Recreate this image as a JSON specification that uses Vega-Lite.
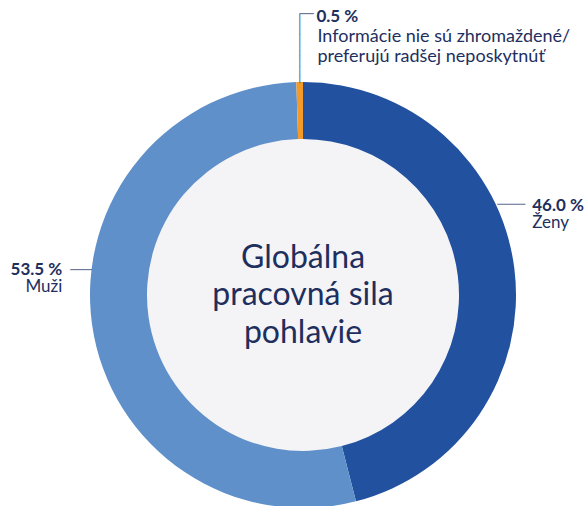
{
  "$schema": "https://vega.github.io/schema/vega-lite/v6.json",
  "width": 570,
  "height": 590,
  "autosize": {"type": "none"},
  "padding": {"left": 18, "top": 0, "right": 0, "bottom": 0},
  "background": "white",
  "config": {"view": {"stroke": null}, "text": {"font": "Lato", "color": "#1e2f5e"}},
  "data": {
    "values": [
      {"kategoria": "Ženy", "podiel": 46.0, "poradie": 1, "percento": "46.0 %", "popisok": "Ženy"},
      {"kategoria": "Muži", "podiel": 53.5, "poradie": 2, "percento": "53.5 %", "popisok": "Muži"},
      {"kategoria": "Informácie nie sú zhromaždené/preferujú radšej neposkytnúť", "podiel": 0.5, "poradie": 3, "percento": "0.5 %", "popisok": "Informácie nie sú zhromaždené/\npreferujú radšej neposkytnúť"}
    ]
  },
  "layer": [
    {
      "mark": {"type": "arc", "innerRadius": 0, "outerRadius": 156, "fill": "#f4f4f7", "stroke": "#f4f4f7", "strokeWidth": 1},
      "encoding": {
        "theta": {"field": "podiel", "type": "quantitative", "stack": true},
        "order": {"field": "poradie", "type": "quantitative"}
      }
    },
    {
      "mark": {"type": "arc", "innerRadius": 156, "outerRadius": 213},
      "encoding": {
        "theta": {"field": "podiel", "type": "quantitative", "stack": true},
        "order": {"field": "poradie", "type": "quantitative"},
        "color": {
          "field": "kategoria", "type": "nominal", "legend": null,
          "scale": {"domain": ["Ženy", "Muži", "Informácie nie sú zhromaždené/preferujú radšej neposkytnúť"], "range": ["#2251a0", "#5f90c9", "#f49a2a"]}
        }
      }
    },
    {
      "data": {"values": [{"nazov": "Globálna\npracovná sila\npohlavie"}]},
      "mark": {"type": "text", "fontSize": 32, "lineHeight": 37.5, "lineBreak": "\n", "align": "center", "baseline": "middle", "dy": -37.5},
      "encoding": {"text": {"field": "nazov", "type": "nominal"}}
    },
    {
      "mark": {"type": "text", "radius": 230, "align": "left", "baseline": "alphabetic", "fontSize": 17, "fontWeight": "bold", "dx": 1, "dy": -55},
      "encoding": {
        "theta": {"field": "podiel", "type": "quantitative", "stack": true},
        "order": {"field": "poradie", "type": "quantitative"},
        "text": {"condition": {"test": "datum.poradie === 1", "field": "percento"}, "value": ""}
      }
    },
    {
      "mark": {"type": "text", "radius": 230, "align": "left", "baseline": "alphabetic", "fontSize": 17, "dx": 1, "dy": -38},
      "encoding": {
        "theta": {"field": "podiel", "type": "quantitative", "stack": true},
        "order": {"field": "poradie", "type": "quantitative"},
        "text": {"condition": {"test": "datum.poradie === 1", "field": "popisok"}, "value": ""}
      }
    },
    {
      "mark": {"type": "text", "radius": 230, "align": "left", "baseline": "middle", "font": "DejaVu Sans", "fontSize": 11.6, "color": "#5a6a8f", "dx": -34, "dy": -61},
      "encoding": {
        "theta": {"field": "podiel", "type": "quantitative", "stack": true},
        "order": {"field": "poradie", "type": "quantitative"},
        "text": {"condition": {"test": "datum.poradie === 1", "value": "────"}, "value": ""}
      }
    },
    {
      "mark": {"type": "text", "radius": 230, "align": "right", "baseline": "alphabetic", "fontSize": 17, "fontWeight": "bold", "dx": -13, "dy": -52},
      "encoding": {
        "theta": {"field": "podiel", "type": "quantitative", "stack": true},
        "order": {"field": "poradie", "type": "quantitative"},
        "text": {"condition": {"test": "datum.poradie === 2", "field": "percento"}, "value": ""}
      }
    },
    {
      "mark": {"type": "text", "radius": 230, "align": "right", "baseline": "alphabetic", "fontSize": 17, "dx": -13, "dy": -35},
      "encoding": {
        "theta": {"field": "podiel", "type": "quantitative", "stack": true},
        "order": {"field": "poradie", "type": "quantitative"},
        "text": {"condition": {"test": "datum.poradie === 2", "field": "popisok"}, "value": ""}
      }
    },
    {
      "mark": {"type": "text", "radius": 230, "align": "left", "baseline": "middle", "font": "DejaVu Sans", "fontSize": 12, "color": "#5a6a8f", "dx": -5, "dy": -57},
      "encoding": {
        "theta": {"field": "podiel", "type": "quantitative", "stack": true},
        "order": {"field": "poradie", "type": "quantitative"},
        "text": {"condition": {"test": "datum.poradie === 2", "value": "───"}, "value": ""}
      }
    },
    {
      "mark": {"type": "text", "radius": 230, "align": "left", "baseline": "alphabetic", "fontSize": 17, "fontWeight": "bold", "dx": 17, "dy": -43},
      "encoding": {
        "theta": {"field": "podiel", "type": "quantitative", "stack": true},
        "order": {"field": "poradie", "type": "quantitative"},
        "text": {"condition": {"test": "datum.poradie === 3", "field": "percento"}, "value": ""}
      }
    },
    {
      "mark": {"type": "text", "radius": 230, "align": "left", "baseline": "alphabetic", "fontSize": 18, "lineHeight": 20, "lineBreak": "\n", "dx": 18, "dy": -23},
      "encoding": {
        "theta": {"field": "podiel", "type": "quantitative", "stack": true},
        "order": {"field": "poradie", "type": "quantitative"},
        "text": {"condition": {"test": "datum.poradie === 3", "field": "popisok"}, "value": ""}
      }
    },
    {
      "mark": {"type": "text", "radius": 230, "align": "left", "baseline": "middle", "font": "DejaVu Sans", "fontSize": 12, "color": "#5a6a8f", "dx": 0, "dy": -51},
      "encoding": {
        "theta": {"field": "podiel", "type": "quantitative", "stack": true},
        "order": {"field": "poradie", "type": "quantitative"},
        "text": {"condition": {"test": "datum.poradie === 3", "value": "──"}, "value": ""}
      }
    },
    {
      "mark": {"type": "text", "radius": 230, "angle": 90, "align": "left", "baseline": "middle", "font": "DejaVu Sans", "fontSize": 11.5, "color": "#5a6a8f", "dx": -51, "dy": 0.4},
      "encoding": {
        "theta": {"field": "podiel", "type": "quantitative", "stack": true},
        "order": {"field": "poradie", "type": "quantitative"},
        "text": {"condition": {"test": "datum.poradie === 3", "value": "──────────"}, "value": ""}
      }
    }
  ]
}
